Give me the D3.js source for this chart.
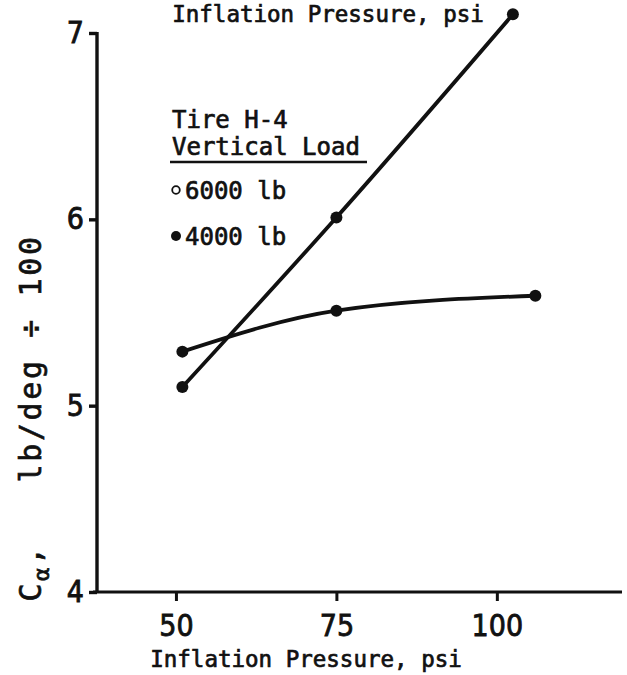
<!DOCTYPE html>
<html><head><meta charset="utf-8">
<script src="https://cdn.jsdelivr.net/npm/d3@7"></script>
<style>
html,body{margin:0;padding:0;background:#fff;}
svg{display:block;}
.mono{font-family:"DejaVu Sans Mono","Liberation Mono",monospace;fill:#111;stroke:#111;stroke-width:0.7px;white-space:pre;}
.tick text{font-family:"Liberation Sans Narrow","DejaVu Sans Condensed","Liberation Sans",sans-serif;fill:#111;stroke:#111;stroke-width:0.8px;}
</style>
</head><body>
<script>
// ---- data ----
const pressures4000 = [51, 75, 102.5];
const load4000 = [5.10, 6.01, 7.10];   // steep line
const pressures6000 = [51, 75, 106];
const load6000 = [5.29, 5.51, 5.59];   // flat curve
const xTicks = [50, 75, 100];
const yTicks = [4, 5, 6, 7];
const legendTitle = ["Tire H-4", "Vertical Load"];
const legendItems = ["6000 lb", "4000 lb"];
const xTitle = "Inflation Pressure, psi";

const W = 627, H = 675;
const svg = d3.select("body").append("svg").attr("width", W).attr("height", H);

const x = d3.scaleLinear().domain([37.7, 119.5]).range([97, 622]);
const y = d3.scaleLinear().domain([4, 7]).range([592, 33]);

const ink = "#111";

// axes lines
svg.append("line").attr("x1", x(37.7) - 4).attr("x2", x(119.5)).attr("y1", y(4)).attr("y2", y(4))
  .attr("stroke", ink).attr("stroke-width", 3.2);
svg.append("line").attr("x1", x(37.7)).attr("x2", x(37.7)).attr("y1", y(4)+1).attr("y2", y(7)-1)
  .attr("stroke", ink).attr("stroke-width", 3.4);

// x axis ticks via d3 axis
const xAxis = d3.axisBottom(x).tickValues(xTicks).tickSize(9).tickPadding(14).tickFormat(d3.format("d"));
const gx = svg.append("g").attr("transform", `translate(0,${y(4)})`).call(xAxis);
gx.select(".domain").remove();
gx.selectAll(".tick line").attr("stroke", ink).attr("stroke-width", 3);
gx.selectAll(".tick text").attr("font-size", 30).attr("dy", "0.71em");

const yAxis = d3.axisLeft(y).tickValues(yTicks).tickSize(8).tickPadding(5).tickFormat(d3.format("d"));
const gy = svg.append("g").attr("transform", `translate(${x(37.7)},0)`).call(yAxis);
gy.select(".domain").remove();
gy.selectAll(".tick line").attr("stroke", ink).attr("stroke-width", 3.4);
gy.selectAll(".tick text").attr("font-size", 30);

// lines
const line = d3.line().x(d => x(d[0])).y(d => y(d[1])).curve(d3.curveMonotoneX);
[[pressures4000, load4000], [pressures6000, load6000]].forEach(([px, vals]) => {
  const pts = vals.map((v, i) => [px[i], v]);
  svg.append("path").datum(pts).attr("d", line).attr("fill", "none")
    .attr("stroke", ink).attr("stroke-width", 3.8).attr("stroke-linecap", "round");
  svg.selectAll(null).data(pts).enter().append("circle")
    .attr("cx", d => x(d[0])).attr("cy", d => y(d[1])).attr("r", 6).attr("fill", ink);
});

// titles
svg.append("text").attr("class", "mono").attr("x", 328).attr("y", 22)
  .attr("text-anchor", "middle").attr("font-size", 22.5).text(xTitle);
svg.append("text").attr("class", "mono").attr("x", 306).attr("y", 667)
  .attr("text-anchor", "middle").attr("font-size", 22.5).text(xTitle);

// y label
const yl = svg.append("text").attr("class", "mono").attr("font-size", 30)
  .attr("letter-spacing", 2.6)
  .attr("text-anchor", "middle").attr("transform", "translate(41,418) rotate(-90)");
yl.append("tspan").text("C");
yl.append("tspan").attr("font-size", 22).attr("dy", 8).text("α");
yl.append("tspan").attr("dy", -8).text(",   lb/deg ÷ 100");

// legend
svg.append("text").attr("class", "mono").attr("x", 172).attr("y", 128).attr("font-size", 24).text(legendTitle[0]);
svg.append("text").attr("class", "mono").attr("x", 172).attr("y", 155).attr("font-size", 24).text(legendTitle[1]);
svg.append("line").attr("x1", 170).attr("x2", 367).attr("y1", 162).attr("y2", 162).attr("stroke", ink).attr("stroke-width", 2.5);
const ly = [190, 236];
legendItems.forEach((t, i) => {
  svg.append("circle").attr("cx", 176).attr("cy", ly[i]).attr("r", i === 0 ? 3.8 : 5)
    .attr("fill", i === 0 ? "#fff" : ink).attr("stroke", ink).attr("stroke-width", i === 0 ? 1.8 : 0);
  svg.append("text").attr("class", "mono").attr("x", 185).attr("y", ly[i] + 9).attr("font-size", 24).text(t);
});
</script>
</body></html>
